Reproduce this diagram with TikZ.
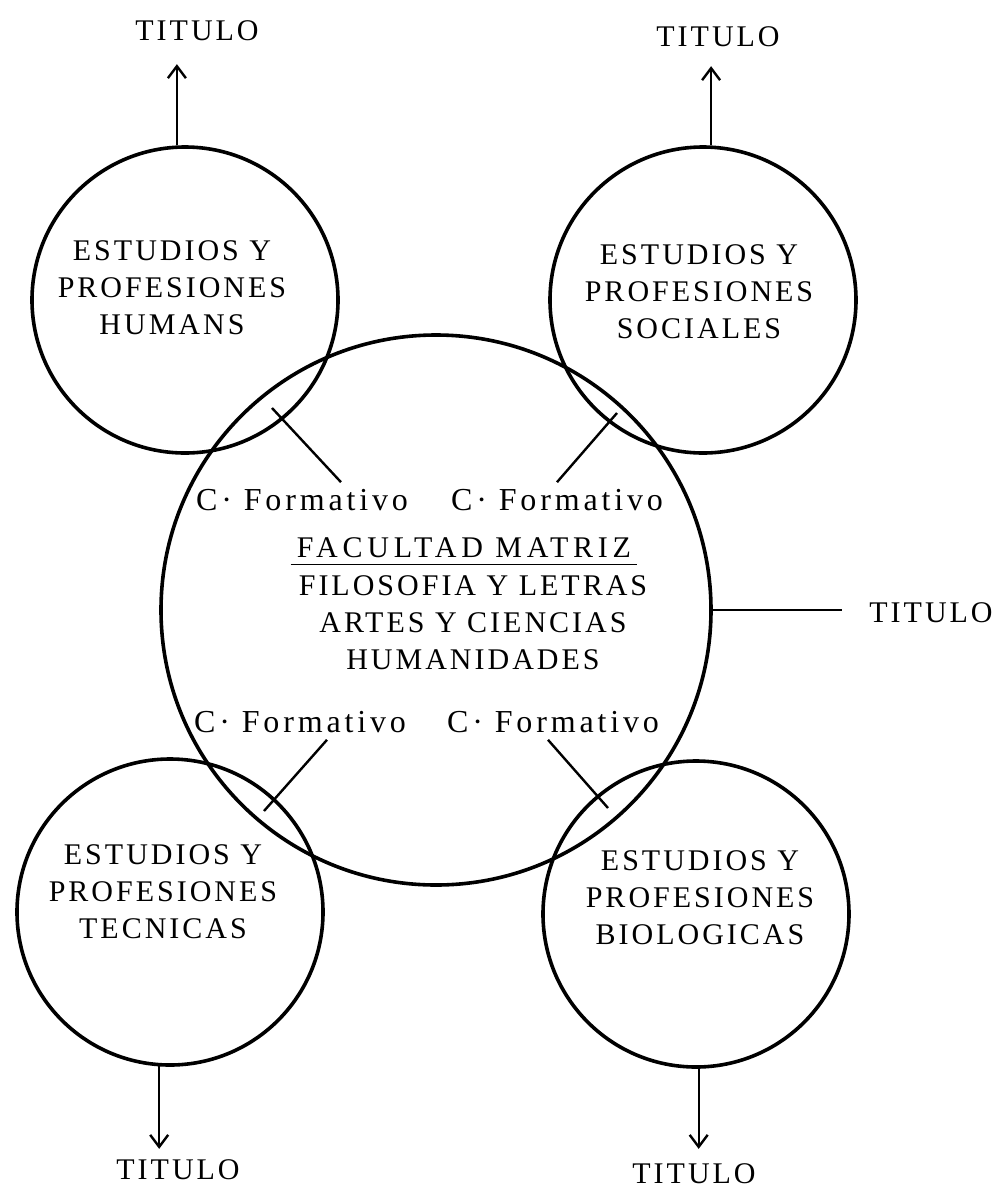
\documentclass[tikz,border=0pt]{standalone}
\usepackage{fontspec}
\setmainfont{Liberation Serif}
\newfontfamily\typeset[LetterSpace=10]{Liberation Serif}
\newfontfamily\widetype[LetterSpace=16]{Liberation Serif}
\newfontfamily\formtype[LetterSpace=12]{Liberation Serif}
\usetikzlibrary{arrows.meta}

\begin{document}
\begin{tikzpicture}[x=0.5pt, y=-0.5pt, font=\typeset\fontsize{15}{18.5}\selectfont]
  \useasboundingbox (0,0) rectangle (1002,1190);  % Seitenformat wie Vorlage.
  \tikzstyle{ring}=[circle, draw, line width=1.8pt, minimum size=153pt, inner sep=0pt]
  \tikzstyle{area}=[align=center, inner sep=0pt]
  \tikzstyle{wide}=[font=\widetype\fontsize{15}{18.5}\selectfont]
  \tikzstyle{form}=[font=\formtype\fontsize{16}{18.5}\selectfont]
  \tikzstyle{pointer}=[line width=1.2pt]
  \tikzstyle{arrow}=[line width=1.2pt, -{Straight Barb[length=6pt,width=9pt]}]

  % Kreise
  \node[ring, minimum size=275pt] (fac) at (436,610) {};
  \node[ring] (hum) at (185,300) {};
  \node[ring] (soc) at (703,300) {};
  \node[ring] (tec) at (170,912) {};
  \node[ring] (bio) at (696,914) {};

  \node[area] (humtxt) at (172,288) {ESTUDIOS Y\\PROFESIONES\\HUMANS};
  \node[area] (soctxt) at (699,292) {ESTUDIOS Y\\PROFESIONES\\SOCIALES};
  \node[area] (tectxt) at (163,892) {ESTUDIOS Y\\PROFESIONES\\TECNICAS};
  \node[area] (biotxt) at (700,898) {ESTUDIOS Y\\PROFESIONES\\BIOLOGICAS};

  % Facultad
  \node[wide, inner sep=3pt] (mat) at (464,548) {FACULTAD MATRIZ};
  \draw[line width=0.8pt] (mat.south west) -- (mat.south east);
  \node[area] (fil) at (473,623) {FILOSOFIA Y LETRAS\\ARTES Y CIENCIAS\\HUMANIDADES};

  \node[form] (cfa) at (302,500) {C· Formativo};
  \node[form] (cfb) at (557,500) {C· Formativo};
  \node[form] (cfc) at (300,722) {C· Formativo};
  \node[form] (cfd) at (553,722) {C· Formativo};

  \coordinate (lena) at (272,408);
  \coordinate (lenb) at (617,413);
  \coordinate (lenc) at (264,811);
  \coordinate (lend) at (608,808);
  \draw[pointer] ([xshift=19.5pt]cfa.north) -- (lena);
  \draw[pointer] (cfb.north) -- (lenb);
  \draw[pointer] ([xshift=13.5pt]cfc.south) -- (lenc);
  \draw[pointer] ([xshift=-2.5pt]cfd.south) -- (lend);

  % Titel
  \node (ttl) at (197,31) {TITULO};
  \node (ttr) at (718,37) {TITULO};
  \node (tre) at (931,613) {TITULO};
  \node (tbl) at (178,1170) {TITULO};
  \node (tbr) at (694,1174) {TITULO};

  \draw[arrow, shorten >=8pt] (hum.93) -- (hum.93 |- ttl.south);
  \draw[arrow, shorten >=6pt] (soc.87) -- (soc.87 |- ttr.south);
  \draw[pointer, shorten >=10pt] (fac.east) -- (fac.east -| tre.west);
  \draw[arrow, shorten >=2pt] (tec.266) -- (tec.266 |- tbl.north);
  \draw[arrow, shorten >=4pt] (bio.271) -- (bio.271 |- tbr.north);
\end{tikzpicture}
\end{document}
